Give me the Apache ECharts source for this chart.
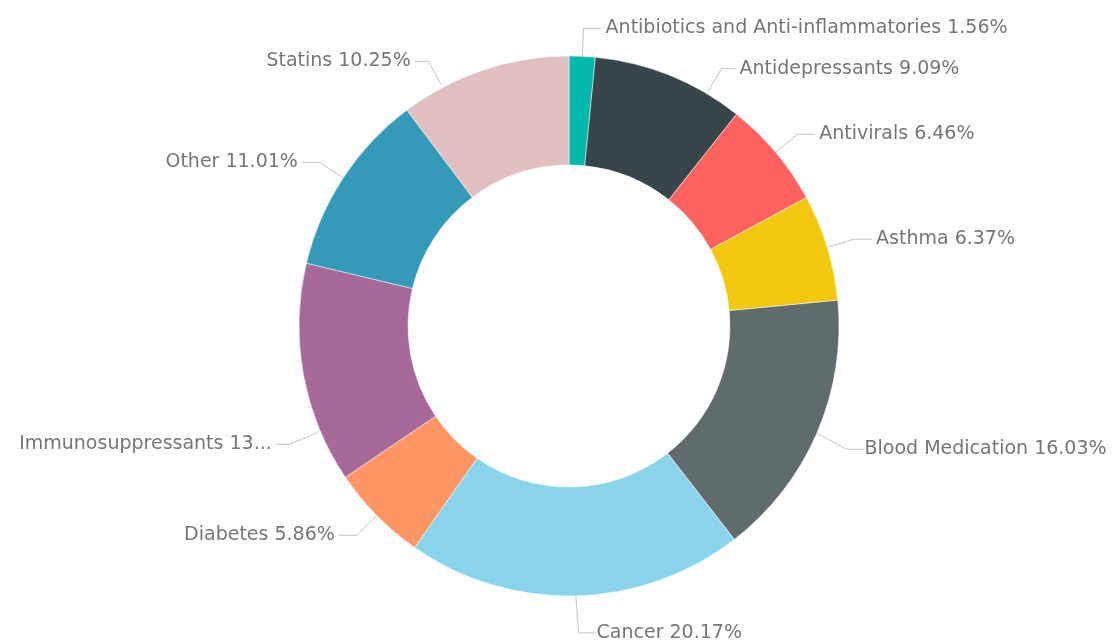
<!DOCTYPE html>
<html>
<head>
<meta charset="utf-8">
<script src="https://cdn.jsdelivr.net/npm/echarts@6/dist/echarts.min.js"></script>
<style>
  html, body { margin: 0; padding: 0; background: #ffffff; }
  #chart { width: 1112px; height: 641px; }
</style>
</head>
<body>
<div id="chart"></div>
<script>
const categories = [
  'Antibiotics and Anti-inflammatories',
  'Antidepressants',
  'Antivirals',
  'Asthma',
  'Blood Medication',
  'Cancer',
  'Diabetes',
  'Immunosuppressants',
  'Other',
  'Statins'
];
const shares = [1.56, 9.09, 6.46, 6.37, 16.03, 20.17, 5.86, 13.20, 11.01, 10.25];
const colors = ['#01B8AA', '#374649', '#FD625E', '#F2C80F', '#5F6B6D',
                '#8AD4EB', '#FE9666', '#A66999', '#3599B8', '#DFBFBF'];

const CX = 569, CY = 326, R_IN = 161, R_OUT = 270;

const chart = echarts.init(document.getElementById('chart'), null, { renderer: 'canvas' });

// label nudges (layout only, in px): [dx, dy, redrawGuide]
const labelNudge = {
  'Antidepressants': [37, 19, true],
  'Statins': [-42, 18, true],
  'Immunosuppressants': [18, 65, true],
  'Cancer': [-2, 9, false],
  'Blood Medication': [0, 5, false]
};

const data = categories.map((name, i) => {
  const item = { name: name, value: shares[i], itemStyle: { color: colors[i] } };
  if (name === 'Immunosuppressants') {
    item.label = { width: 256, overflow: 'truncate', ellipsis: '...' };
  }
  return item;
});

chart.setOption({
  backgroundColor: '#ffffff',
  animation: false,
  series: [{
    type: 'pie',
    center: [CX, CY],
    radius: [R_IN, R_OUT],
    startAngle: 90,
    clockwise: true,
    percentPrecision: 2,
    avoidLabelOverlap: true,
    itemStyle: { borderColor: '#ffffff', borderWidth: 0.5 },
    label: {
      show: true,
      formatter: '{b} {d}%',
      color: '#757575',
      fontFamily: 'DejaVu Sans',
      fontSize: 19,
      overflow: 'none',
      distanceToLabelLine: 4
    },
    labelLine: {
      show: true,
      length: 28,
      length2: 18,
      lineStyle: { color: '#c4c4c4', width: 1 }
    },
    labelLayout: function (params) {
      const n = labelNudge[categories[params.dataIndex]];
      if (!n) return {};
      const r = params.labelRect;
      const isLeft = params.align === 'right';
      const x = (isLeft ? r.x + r.width : r.x) + n[0];
      const y = r.y + r.height / 2 + n[1];
      const out = { x: x, y: y };
      if (n[2]) {
        const p2 = [isLeft ? x + 4 : x - 4, y];
        const p1 = [isLeft ? p2[0] + 14 : p2[0] - 14, y];
        const vx = p1[0] - CX, vy = p1[1] - CY;
        const len = Math.sqrt(vx * vx + vy * vy);
        const p0 = [CX + vx / len * (R_OUT + 3), CY + vy / len * (R_OUT + 3)];
        out.labelLinePoints = [p0, p1, p2];
      }
      return out;
    },
    emphasis: { disabled: true },
    data: data
  }]
});
</script>
</body>
</html>
